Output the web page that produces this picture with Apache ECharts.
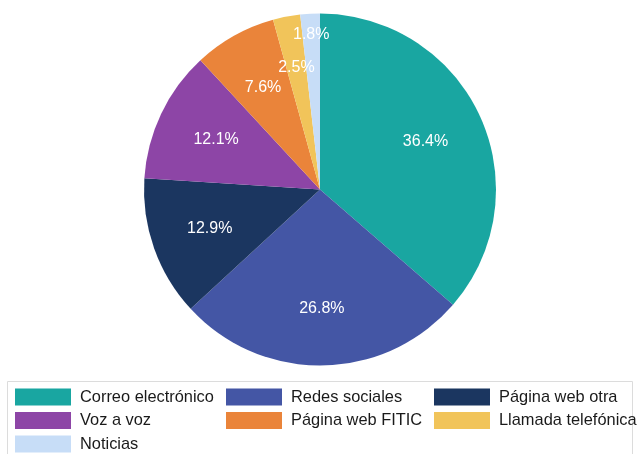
<!DOCTYPE html>
<html>
<head>
<meta charset="utf-8">
<script src="https://cdn.jsdelivr.net/npm/echarts@6/dist/echarts.min.js"></script>
<style>
  html, body { margin: 0; padding: 0; background: #fff; }
  #chart { width: 637px; height: 454px; }
</style>
</head>
<body>
<div id="chart"></div>
<script>
// Canales por los que se conoció el evento (porcentaje)
const categories = [
  'Correo electrónico',
  'Redes sociales',
  'Página web otra',
  'Voz a voz',
  'Página web FITIC',
  'Llamada telefónica',
  'Noticias'
];
const shares = [36.4, 26.8, 12.9, 12.1, 7.6, 2.5, 1.8];
const colors = ['#19a6a1', '#4456a5', '#1b3660', '#8d45a6', '#ea843a', '#f1c45a', '#c7ddf7'];

// Legend columns (names per column)
const legendCol1 = ['Correo electrónico', 'Voz a voz', 'Noticias'];
const legendCol2 = ['Redes sociales', 'Página web FITIC'];
const legendCol3 = ['Página web otra', 'Llamada telefónica'];

// Distance of each percentage label from the pie centre (px)
const labelRadius = [116, 119, 117, 115, 117, 124, 155];

const CX = 320, CY = 189.5, R = 176;
const FONT = '"Liberation Sans", Arial, sans-serif';

const chart = echarts.init(document.getElementById('chart'), null, { renderer: 'canvas' });

function legendAt(left, names) {
  return {
    orient: 'vertical',
    left: left,
    top: 388.5,
    padding: 0,
    itemWidth: 56,
    itemHeight: 17,
    itemGap: 6.5,
    icon: 'rect',
    selectedMode: false,
    data: names,
    textStyle: {
      fontFamily: FONT,
      fontSize: 16.4,
      color: '#1a1a1a',
      padding: [0, 0, 0, 4]
    }
  };
}

chart.setOption({
  backgroundColor: '#ffffff',
  animation: false,
  color: colors,
  legend: [
    legendAt(15, legendCol1),
    legendAt(226, legendCol2),
    legendAt(434, legendCol3)
  ],
  graphic: [{
    type: 'rect',
    shape: { x: 7.5, y: 381.5, width: 625, height: 90 },
    style: { fill: 'none', stroke: '#dcdcdc', lineWidth: 1 },
    silent: true
  }],
  series: [{
    type: 'pie',
    center: [CX, CY],
    radius: [0, R],
    startAngle: 90,
    clockwise: true,
    avoidLabelOverlap: false,
    itemStyle: { borderWidth: 0 },
    emphasis: { disabled: true },
    label: {
      show: true,
      position: 'inside',
      formatter: function (p) { return p.value.toFixed(1) + '%'; },
      color: '#ffffff',
      fontFamily: FONT,
      fontSize: 16
    },
    labelLine: { show: false },
    labelLayout: function (p) {
      const r = p.labelRect;
      const lx = r.x + r.width / 2, ly = r.y + r.height / 2;
      const dx = lx - CX, dy = ly - CY;
      const d = Math.hypot(dx, dy) || 1;
      const t = labelRadius[p.dataIndex];
      return { x: CX + dx / d * t, y: CY + dy / d * t, align: 'center', verticalAlign: 'middle' };
    },
    data: categories.map(function (name, i) {
      return { name: name, value: shares[i] };
    })
  }]
});
</script>
</body>
</html>
